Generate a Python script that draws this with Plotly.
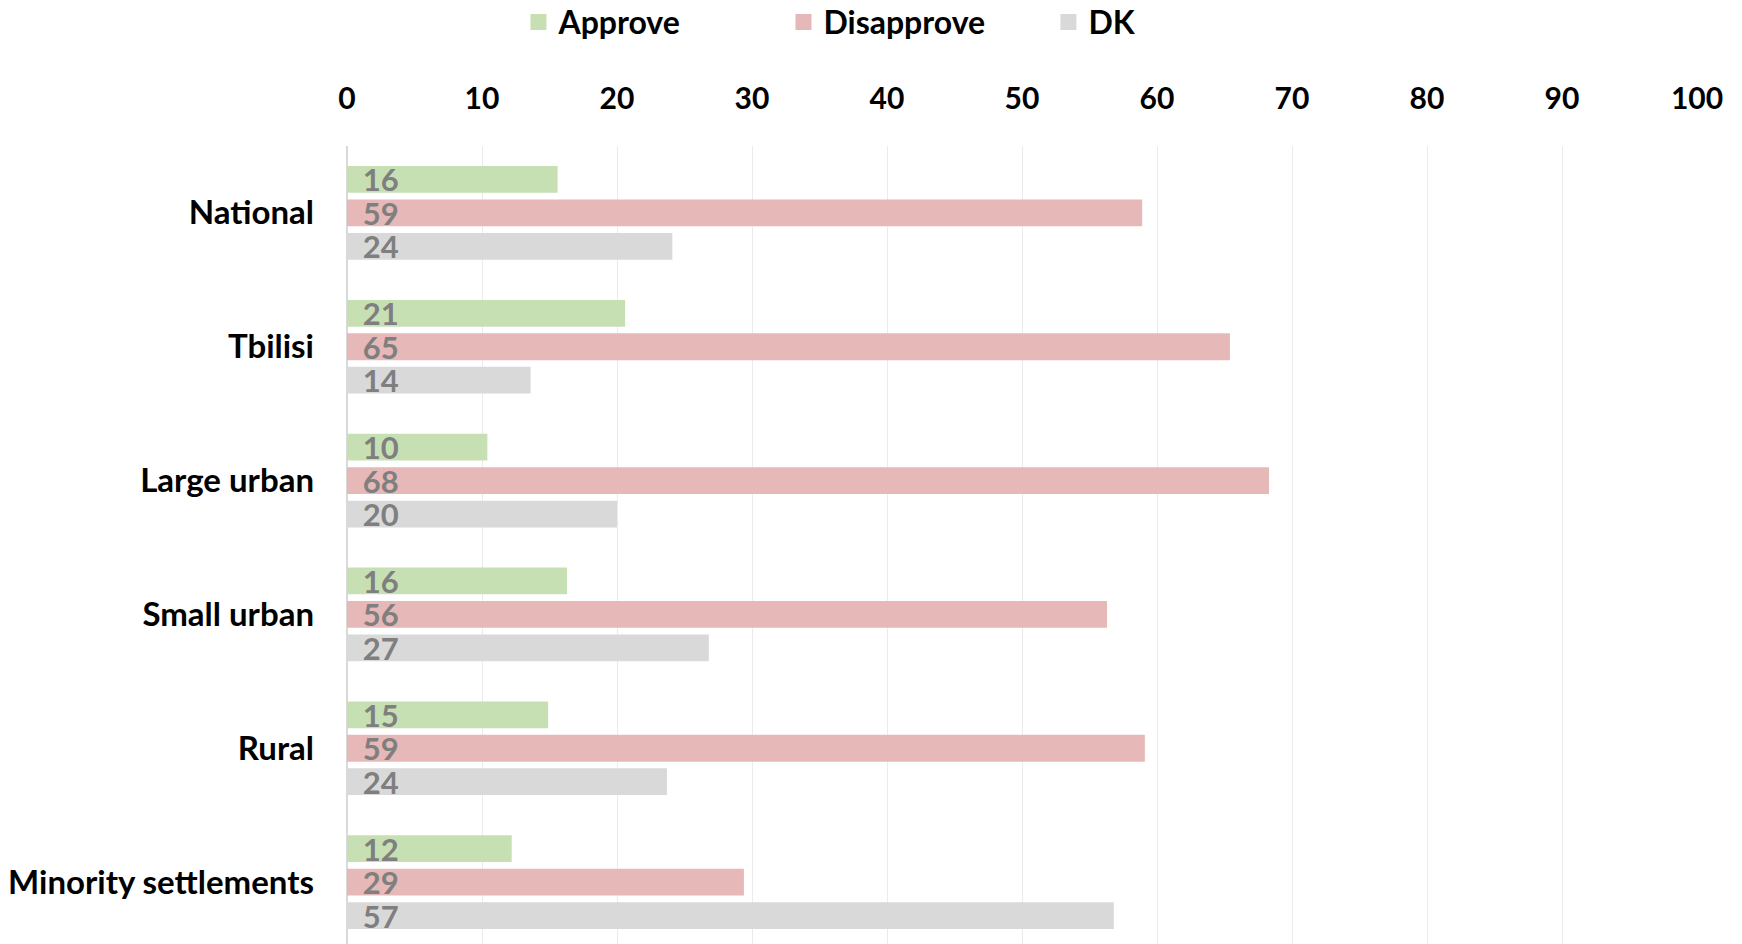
import plotly.graph_objects as go

# Survey results by settlement type (percent)
categories = ["National", "Tbilisi", "Large urban", "Small urban", "Rural", "Minority settlements"]
approve = [15.6, 20.6, 10.4, 16.3, 14.9, 12.2]
disapprove = [58.9, 65.4, 68.3, 56.3, 59.1, 29.4]
dont_know = [24.1, 13.6, 20.0, 26.8, 23.7, 56.8]
x_ticks = [0, 10, 20, 30, 40, 50, 60, 70, 80, 90, 100]

SERIES = [
    ("Approve", approve, "#c6e0b4"),
    ("Disapprove", disapprove, "#e6b8b7"),
    ("DK", dont_know, "#d9d9d9"),
]

FONT = "Lato"

fig = go.Figure()
for name, values, color in SERIES:
    fig.add_trace(
        go.Bar(
            y=categories,
            x=values,
            name=name,
            orientation="h",
            marker=dict(color=color, line=dict(width=0)),
            texttemplate="\u00a0\u2006%{x:.0f}",
            textposition="inside",
            insidetextanchor="start",
            constraintext="none",
            textfont=dict(family=FONT, size=31, color="#7f7f7f", weight="bold"),
            hoverinfo="skip",
            showlegend=False,
        )
    )

# Legend entries (bigger square swatches than the default bar swatch).
for name, _, color in SERIES:
    fig.add_trace(
        go.Scatter(
            x=[None],
            y=[None],
            mode="markers",
            name=name,
            marker=dict(symbol="square", size=16, color=color),
            showlegend=True,
        )
    )

fig.update_layout(
    width=1742,
    height=944,
    barmode="group",
    bargap=0.25,
    bargroupgap=0.2,
    plot_bgcolor="white",
    paper_bgcolor="white",
    font=dict(family=FONT, size=30, color="black", weight="bold"),
    margin=dict(l=339, r=53, t=138, b=3, autoexpand=False),
    legend=dict(
        orientation="h",
        x=0.127,
        xanchor="left",
        yref="container",
        y=0.985,
        yanchor="middle",
        font=dict(family=FONT, size=32, color="black", weight="bold"),
        entrywidth=220,
        traceorder="normal",
    ),
)
fig.update_xaxes(
    side="top",
    range=[0, 100],
    tickvals=x_ticks,
    showgrid=True,
    gridcolor="#ebebeb",
    gridwidth=1,
    zeroline=True,
    zerolinecolor="#d9d9d9",
    zerolinewidth=1.5,
    showline=False,
    ticklabelstandoff=30,
    tickfont=dict(family=FONT, size=30, color="black", weight="bold"),
    fixedrange=True,
)
fig.update_yaxes(
    categoryorder="array",
    categoryarray=categories,
    autorange="reversed",
    showgrid=False,
    showline=False,
    ticklabelstandoff=32,
    tickfont=dict(family=FONT, size=33, color="black", weight="bold"),
    fixedrange=True,
)

fig.write_html("out.html")
